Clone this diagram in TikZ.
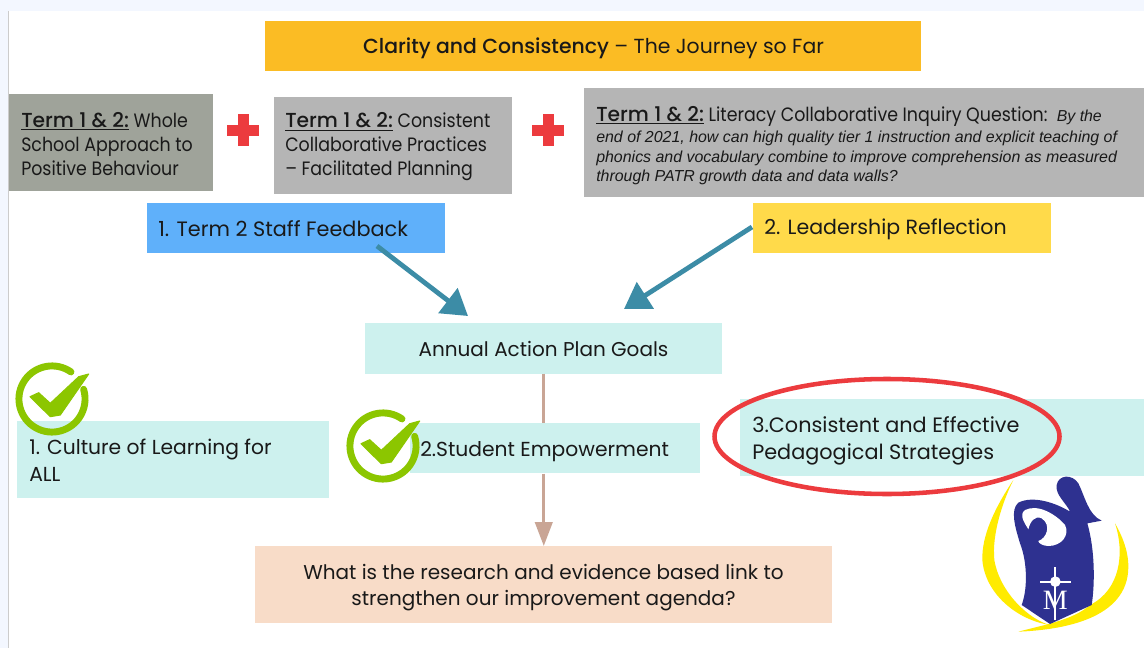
\documentclass[tikz,border=0pt]{standalone}
\usepackage{fontspec}
\setmainfont{Poppins}
\newfontfamily\arialf{Liberation Sans}
\newfontfamily\serf{Liberation Serif}
\newfontfamily\narrowf[FakeStretch=0.9]{Poppins}
\newfontfamily\medf{Poppins Medium}
\usetikzlibrary{shapes.geometric,arrows.meta,calc}
\definecolor{teal1}{HTML}{3C8CA6}
\definecolor{aqua}{HTML}{CDF1EE}
\definecolor{gold}{HTML}{FBBC24}
\definecolor{grayA}{HTML}{9FA39A}
\definecolor{grayB}{HTML}{B5B5B5}
\definecolor{sky}{HTML}{5FB0FA}
\definecolor{lemon}{HTML}{FFDA4A}
\definecolor{peach}{HTML}{F8DCC8}
\definecolor{tan1}{HTML}{C9A595}
\definecolor{redc}{HTML}{EC3B3E}
\definecolor{greenc}{HTML}{8CC600}
\definecolor{navy}{HTML}{2E3190}
\definecolor{yel}{HTML}{FFEB00}
\definecolor{pale}{HTML}{F3F7FF}
\newcommand{\bx}[6]{%
  \pgfmathsetmacro{\bw}{(#4-#2)*0.75}%
  \pgfmathsetmacro{\bh}{(#5-#3)*0.75}%
  \node[inner sep=0pt,fill=#6,minimum width=\bw pt,minimum height=\bh pt,anchor=north west] (#1) at (#2,#3) {};%
}
\newcommand{\tm}{{\medf\fontsize{15.2}{18}\selectfont\underline{Term 1 \& 2:}}}
\tikzset{
  maintext/.style={inner sep=0pt,font=\fontsize{15.2}{20}\selectfont,text=black!90,align=left,anchor=west},
  midtext/.style={inner sep=0pt,font=\fontsize{15}{19.6}\selectfont,text=black!90,align=center},
  termtext/.style={inner sep=0pt,font=\narrowf\fontsize{14.5}{18}\selectfont,text=black!90,align=left,anchor=west},
  bigarrow/.style={teal1,line width=3.6pt,-{Triangle[length=19pt,width=23pt]}},
  vertline/.style={tan1,line width=2.4pt},
  vertarrow/.style={tan1,line width=2.4pt,-{Triangle[length=18pt,width=13pt]}},
  crossmark/.style={fill=redc,draw=none},
  okring/.style={draw=greenc,line width=5.2pt,line cap=round},
  oktick/.style={fill=greenc,draw=greenc,line width=0.8pt,line join=round},
  pics/okmark/.style={code={
    \draw[okring] (55:24.8pt) arc[start angle=55,end angle=377,radius=24.8pt];
    \fill[oktick] (-22,-2.3) -- (-13.3,-6.3) -- (-1.7,4.3) -- (26.7,-22.3) -- (36.7,-25) -- (8.3,16) -- (-1.7,17.7) -- cycle;
  }}
}
\begin{document}
\begin{tikzpicture}[x=0.75pt,y=-0.75pt]
\useasboundingbox (0,0) rectangle (1144,648);
\fill[white] (0,0) rectangle (1144,648);
\fill[pale] (0,0) rectangle (1144,11);
\fill[pale] (0,0) rectangle (8,648);
\draw[black!20,line width=0.75pt] (8.5,11) -- (8.5,648);

\bx{title}{265}{21}{921}{71}{gold}
\node[midtext,font=\fontsize{15.3}{20}\selectfont] (titlet) at (593.5,48) {{\medf Clarity and Consistency} – The Journey so Far};
\bx{one}{9}{94}{213}{191}{grayA}
\node[termtext] (onet) at (21,144) {\tm{} Whole\\School Approach to\\Positive Behaviour};
\bx{two}{274}{97}{512}{194}{grayB}
\node[termtext] (twot) at (285,147) {\tm{} Consistent\\Collaborative Practices\\– Facilitated Planning};
\bx{three}{584}{88}{1144}{197}{grayB}
\node[termtext] (threet) at (596,116) {\tm{} Literacy Collaborative Inquiry Question:\ \ {\arialf\itshape\fontsize{11.9}{15}\selectfont By the}};
\node[inner sep=0pt,anchor=west,align=left,font=\arialf\itshape\fontsize{11.95}{14.6}\selectfont,text=black!90] (threeb) at (596,158) {end of 2021, how can high quality tier 1 instruction and explicit teaching of\\phonics and vocabulary combine to improve comprehension as measured\\through PATR growth data and data walls?};
\bx{staff}{147}{203}{445}{253}{sky}
\node[maintext,font=\fontsize{15.6}{20}\selectfont] (stafft) at (158,229) {1. Term 2 Staff Feedback};
\bx{lead}{753}{203}{1051}{253}{lemon}
\node[maintext,font=\fontsize{15.4}{20}\selectfont] (leadt) at (764,229) {2. Leadership Reflection};
\bx{annual}{365}{323}{722}{374}{aqua}
\node[midtext] (annualt) at (543.5,349) {Annual Action Plan Goals};
\bx{student}{410}{423}{700}{473}{aqua}
\node[maintext] (studentt) at (420,452) {2.Student Empowerment};
\bx{research}{255}{546}{832}{623}{peach}
\node[midtext] (researcht) at (543.5,587.5) {What is the research and evidence based link to\\strengthen our improvement agenda?};

\draw[vertline] (annual.south) ++(0,-1) -- (annual.south |- student.north);
\draw[vertarrow] (annual.south |- student.south) -- (annual.south |- research.north);

\bx{culture}{17}{421}{329}{498}{aqua}
\node[maintext] (culturet) at (29,460) {1. Culture of Learning for\\ALL};
\bx{third}{740}{399}{1144}{476}{aqua}
\node[maintext,font=\fontsize{15.6}{20}\selectfont] (thirdt) at (752,441) {3.Consistent and Effective\\Pedagogical Strategies};

\coordinate (a1) at (377,246);
\coordinate (a2) at (468,316);
\coordinate (b1) at (752,227);
\coordinate (b2) at (624,309);
\draw[bigarrow] (a1) -- (a2);
\draw[bigarrow] (b1) -- (b2);

\foreach \cx in {243,548}{
  \fill[crossmark] (\cx-16,125) rectangle (\cx+16,136);
  \fill[crossmark] (\cx-5.5,114) rectangle (\cx+5.5,146);
}
\pic at (52,399) {okmark};
\pic at (383,446) {okmark};

\node[ellipse,draw=redc,line width=3.4pt,minimum width=345*0.75pt,minimum height=115*0.75pt,inner sep=0pt] (ring) at (887,436.5) {};

\begin{scope}[shift={(950,460)},x=0.25pt,y=-0.25pt]
  \fill[yel] (190,60) .. controls (130,150) and (95,230) .. (97,300)
     .. controls (105,400) and (200,480) .. (300,495)
     .. controls (240,480) and (150,400) .. (133,300)
     .. controls (125,220) and (160,120) .. (190,60) -- cycle;
  \fill[yel] (205,515) .. controls (330,510) and (535,480) .. (535,320)
     .. controls (535,270) and (515,225) .. (495,190)
     .. controls (525,280) and (510,390) .. (420,435)
     .. controls (370,480) and (280,495) .. (205,515) -- cycle;
  \fill[navy] (300,492) -- (215,435)
     .. controls (235,380) and (230,300) .. (210,250)
     .. controls (195,200) and (180,150) .. (205,128)
     .. controls (250,105) and (320,130) .. (360,155)
     .. controls (350,130) and (315,105) .. (320,75)
     .. controls (325,45) and (365,40) .. (385,70)
     .. controls (405,110) and (415,165) .. (455,182)
     -- (412,190)
     .. controls (435,270) and (435,370) .. (425,435) -- cycle;
  \fill[white] (235,208) .. controls (225,190) and (205,165) .. (225,150)
     .. controls (265,130) and (320,165) .. (345,195)
     .. controls (360,225) and (335,258) .. (295,258)
     .. controls (280,258) and (265,250) .. (265,243)
     .. controls (290,235) and (305,195) .. (275,175)
     .. controls (255,165) and (240,185) .. (235,208) -- cycle;
  \node[text=white,font=\serf\fontsize{21}{21}\selectfont,inner sep=0pt] (mlogo) at (316,422) {M};
  \draw[white,line width=1.6pt] (316,322) -- (316,480);
  \draw[white,line width=1.6pt] (270,365) -- (362,365);
  \fill[white] (316,365) circle (16);
\end{scope}
\end{tikzpicture}
\end{document}
